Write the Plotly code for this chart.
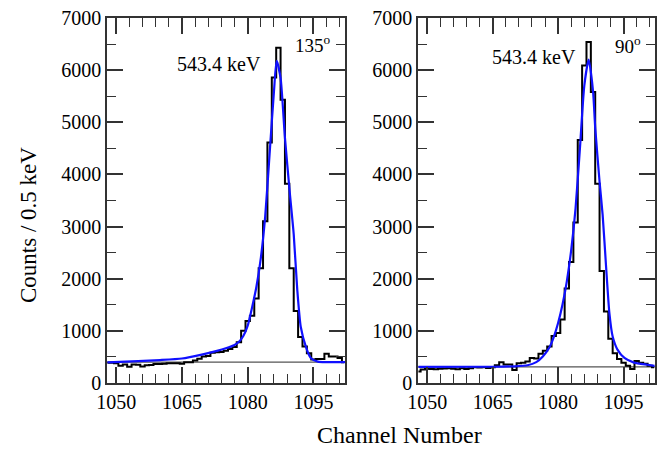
import plotly.graph_objects as go

# ---------------- data ----------------
channels = list(range(1048, 1103))

counts_135 = [390, 390, 380, 330, 355, 310, 355, 350, 315, 340,
              345, 365, 365, 370, 380, 380, 380, 370, 400, 400,
              430, 465, 510, 520, 580, 590, 595, 620, 650, 690,
              780, 1000, 1190, 1290, 1620, 2200, 3100, 4610, 5860, 6430,
              5430, 3820, 2200, 1380, 880, 700, 570, 450, 460, 460,
              560, 510, 510, 480, 400]

counts_90 = [220, 260, 275, 270, 265, 275, 280, 285, 275, 265,
             285, 270, 285, 300, 295, 300, 290, 300, 340, 400,
             355, 355, 247, 380, 390, 410, 480, 470, 560, 620,
             700, 900, 960, 1220, 1810, 2320, 3080, 4660, 6090, 6540,
             5580, 3820, 2150, 1370, 850, 570, 460, 390, 330, 270,
             420, 390, 370, 330, 300]

fit_x_135 = [1048, 1055, 1060, 1065, 1070, 1073, 1075, 1077, 1078, 1079,
             1080, 1081, 1082, 1083, 1084, 1085, 1086, 1086.6, 1087.5, 1088.5,
             1089.6, 1090.5, 1091.3, 1092.1, 1093.3, 1094.4, 1096, 1098, 1102.2]
fit_y_135 = [395, 420, 440, 470, 555, 615, 665, 730, 790, 900,
             1100, 1450, 1850, 2400, 3200, 4400, 5600, 6180, 5850, 4700,
             3650, 2850, 1800, 1080, 690, 480, 410, 400, 400]

fit_x_90 = [1048, 1065, 1070, 1073, 1075, 1076.5, 1078, 1079, 1080, 1081,
            1082, 1083, 1084, 1085, 1086, 1087, 1088, 1088.5, 1089.5, 1090.2,
            1091, 1091.75, 1092.5, 1093.6, 1095.2, 1097.4, 1100.5, 1102.1]
fit_y_90 = [310, 312, 320, 340, 400, 510, 680, 880, 1150, 1500,
            1950, 2550, 3350, 4500, 5700, 6200, 5600, 4900, 3860, 3230,
            2220, 1340, 890, 640, 480, 390, 350, 330]

baseline_135 = 400
baseline_90 = 310

x_ticks = [1050, 1065, 1080, 1095]
y_ticks = [0, 1000, 2000, 3000, 4000, 5000, 6000, 7000]
peak_label = "543.4 keV"
angle_labels = ["135<sup>o</sup>", "90<sup>o</sup>"]
x_range = [1047.9, 1102.2]
y_range = [0, 7000]

# ---------------- figure ----------------
FONT = "Liberation Serif, Times New Roman, serif"
fig = go.Figure()

panels = [
    (counts_135, fit_x_135, fit_y_135, baseline_135, "x", "y"),
    (counts_90, fit_x_90, fit_y_90, baseline_90, "x2", "y2"),
]
for counts, fx, fy, base, xa, ya in panels:
    fig.add_trace(go.Scatter(x=[x_range[0], x_range[1]], y=[base, base], mode="lines",
                             line=dict(color="#555555", width=1.2),
                             xaxis=xa, yaxis=ya, showlegend=False, hoverinfo="skip"))
    fig.add_trace(go.Scatter(x=channels, y=counts, mode="lines",
                             line=dict(color="black", width=2, shape="hvh"),
                             xaxis=xa, yaxis=ya, showlegend=False))
    fig.add_trace(go.Scatter(x=fx, y=fy, mode="lines",
                             line=dict(color="#1010ff", width=2.2, shape="spline", smoothing=0.6),
                             xaxis=xa, yaxis=ya, showlegend=False))

axis_common = dict(showgrid=False, zeroline=False, showline=True, linecolor="#333333",
                   linewidth=1.5, mirror="ticks", ticks="inside", ticklen=16,
                   tickwidth=1.5, tickcolor="#333333", automargin=False,
                   ticklabeloverflow="allow",
                   tickfont=dict(family=FONT, size=20, color="black"))

xa = dict(axis_common, range=x_range, tickvals=x_ticks,
          minor=dict(dtick=3, tick0=1050, ticks="inside", ticklen=9,
                     tickwidth=1.2, tickcolor="#333333"))
ya = dict(axis_common, range=y_range, tickvals=y_ticks,
          minor=dict(dtick=500, tick0=0, ticks="inside", ticklen=9,
                     tickwidth=1.2, tickcolor="#333333"))

W, H = 654, 439
L, T, R_, B = 99, 10, 7, 64
pw = W - L - R_   # 548
ph = H - T - B    # 365
d1 = [0, 238 / pw]
d2 = [311 / pw, 1]
fig.update_layout(
    width=W, height=H,
    margin=dict(l=L, r=R_, t=T, b=B),
    paper_bgcolor="white", plot_bgcolor="white",
    xaxis=dict(xa, domain=d1, anchor="y"),
    yaxis=dict(ya, domain=[0, 1], anchor="x"),
    xaxis2=dict(xa, domain=d2, anchor="y2"),
    yaxis2=dict(ya, domain=[0, 1], anchor="x2"),
    font=dict(family=FONT, color="black"),
)

anns = [
    dict(x=1083.6, y=6120, xref="x", yref="y", text=peak_label, xanchor="right",
         yanchor="middle", showarrow=False, font=dict(size=20)),
    dict(x=1090.4, y=6500, xref="x", yref="y", text=angle_labels[0], xanchor="left",
         yanchor="middle", showarrow=False, font=dict(size=19)),
    dict(x=1084.5, y=6250, xref="x2", yref="y2", text=peak_label, xanchor="right",
         yanchor="middle", showarrow=False, font=dict(size=20)),
    dict(x=1092.5, y=6480, xref="x2", yref="y2", text=angle_labels[1], xanchor="left",
         yanchor="middle", showarrow=False, font=dict(size=19)),
    dict(x=(399 - 107) / pw, y=-(435 - 383) / ph, xref="paper", yref="paper",
         text="Channel Number", xanchor="center", yanchor="middle", showarrow=False,
         font=dict(size=24)),
    dict(x=-(107 - 28) / pw, y=(383 - 225) / ph, xref="paper", yref="paper",
         text="Counts / 0.5 keV", textangle=-90, xanchor="center", yanchor="middle",
         showarrow=False, font=dict(size=23)),
]
fig.update_layout(annotations=anns)

fig.write_html("out.html")
